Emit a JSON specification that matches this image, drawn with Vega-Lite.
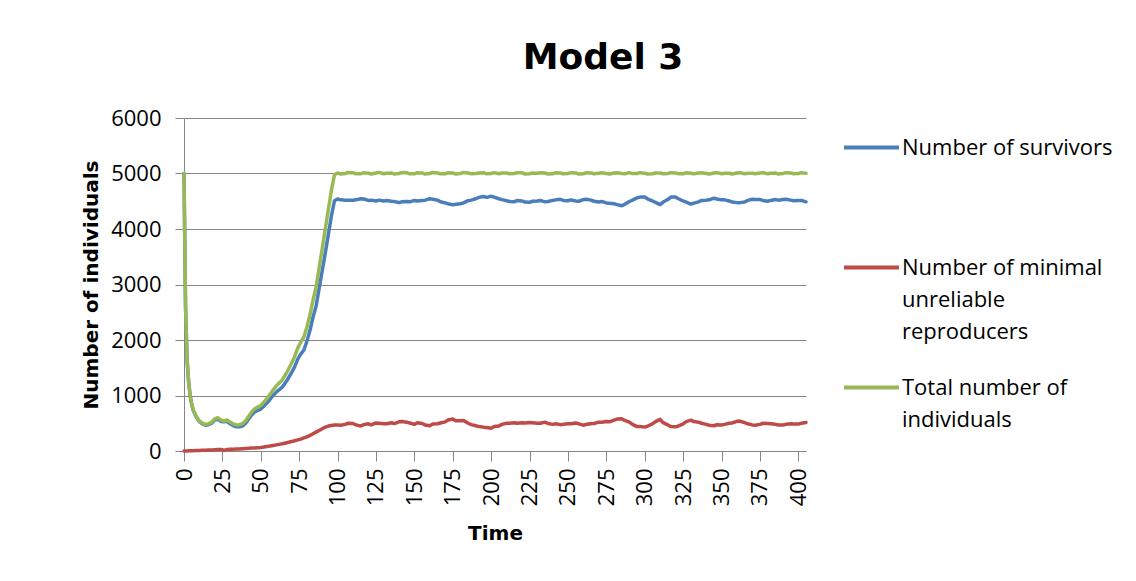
{
  "$schema": "https://vega.github.io/schema/vega-lite/v6.json",
  "width": 622,
  "height": 333,
  "padding": {"left": 81, "top": 40, "right": 0, "bottom": 0},
  "background": "white",
  "title": {"text": "Model 3", "font": "DejaVu Sans", "fontWeight": "bold", "fontSize": 36, "color": "#000000", "anchor": "middle", "dx": 108, "offset": 30},
  "data": {"values": [
    {"t":0,"g":5000,"m":0,"s":5000},
    {"t":1,"g":2600,"m":0,"s":2600},
    {"t":2,"g":1650,"m":2,"s":1648},
    {"t":3,"g":1250,"m":3,"s":1247},
    {"t":4,"g":1000,"m":4,"s":996},
    {"t":5,"g":850,"m":5,"s":845},
    {"t":6,"g":740,"m":6,"s":734},
    {"t":8,"g":620,"m":8,"s":612},
    {"t":10,"g":540,"m":10,"s":530},
    {"t":12,"g":500,"m":12,"s":488},
    {"t":14,"g":480,"m":15,"s":465},
    {"t":16,"g":490,"m":18,"s":472},
    {"t":18,"g":520,"m":20,"s":500},
    {"t":20,"g":580,"m":22,"s":558},
    {"t":22,"g":600,"m":25,"s":575},
    {"t":24,"g":560,"m":28,"s":532},
    {"t":26,"g":540,"m":15,"s":525},
    {"t":28,"g":560,"m":25,"s":535},
    {"t":30,"g":520,"m":30,"s":490},
    {"t":32,"g":490,"m":32,"s":458},
    {"t":34,"g":470,"m":35,"s":435},
    {"t":36,"g":475,"m":38,"s":437},
    {"t":38,"g":490,"m":42,"s":448},
    {"t":40,"g":540,"m":45,"s":495},
    {"t":42,"g":620,"m":48,"s":572},
    {"t":44,"g":700,"m":52,"s":648},
    {"t":46,"g":760,"m":56,"s":704},
    {"t":48,"g":790,"m":60,"s":730},
    {"t":50,"g":820,"m":65,"s":755},
    {"t":52,"g":880,"m":72,"s":808},
    {"t":55,"g":980,"m":85,"s":895},
    {"t":58,"g":1100,"m":100,"s":1000},
    {"t":61,"g":1200,"m":115,"s":1085},
    {"t":64,"g":1280,"m":130,"s":1150},
    {"t":67,"g":1420,"m":150,"s":1270},
    {"t":70,"g":1580,"m":170,"s":1410},
    {"t":72,"g":1700,"m":185,"s":1515},
    {"t":74,"g":1850,"m":200,"s":1650},
    {"t":76,"g":1960,"m":215,"s":1745},
    {"t":78,"g":2050,"m":235,"s":1815},
    {"t":80,"g":2230,"m":255,"s":1975},
    {"t":82,"g":2450,"m":280,"s":2170},
    {"t":84,"g":2720,"m":310,"s":2410},
    {"t":86,"g":2950,"m":340,"s":2610},
    {"t":88,"g":3300,"m":370,"s":2930},
    {"t":90,"g":3650,"m":400,"s":3250},
    {"t":92,"g":4000,"m":430,"s":3570},
    {"t":94,"g":4350,"m":450,"s":3900},
    {"t":96,"g":4700,"m":460,"s":4240},
    {"t":98,"g":4980,"m":470,"s":4510},
    {"t":100,"g":5010,"m":470,"s":4540},
    {"t":102,"g":4990,"m":465,"s":4525},
    {"t":105,"g":5000,"m":480,"s":4520},
    {"t":107,"g":5020,"m":500,"s":4520},
    {"t":110,"g":5015,"m":495,"s":4520},
    {"t":112,"g":4995,"m":470,"s":4525},
    {"t":115,"g":4995,"m":450,"s":4545},
    {"t":117,"g":5015,"m":475,"s":4540},
    {"t":120,"g":5005,"m":490,"s":4515},
    {"t":122,"g":4990,"m":470,"s":4520},
    {"t":125,"g":5010,"m":505,"s":4505},
    {"t":127,"g":5020,"m":500,"s":4520},
    {"t":130,"g":4995,"m":490,"s":4505},
    {"t":132,"g":5005,"m":490,"s":4515},
    {"t":135,"g":5010,"m":510,"s":4500},
    {"t":137,"g":4990,"m":495,"s":4495},
    {"t":140,"g":5000,"m":525,"s":4475},
    {"t":142,"g":5020,"m":530,"s":4490},
    {"t":145,"g":5015,"m":520,"s":4495},
    {"t":147,"g":4995,"m":505,"s":4490},
    {"t":150,"g":4995,"m":480,"s":4515},
    {"t":152,"g":5015,"m":510,"s":4505},
    {"t":155,"g":5010,"m":495,"s":4515},
    {"t":157,"g":4990,"m":470,"s":4520},
    {"t":160,"g":5000,"m":455,"s":4545},
    {"t":162,"g":5020,"m":485,"s":4535},
    {"t":165,"g":5010,"m":490,"s":4520},
    {"t":167,"g":4995,"m":505,"s":4490},
    {"t":170,"g":4995,"m":525,"s":4470},
    {"t":172,"g":5015,"m":560,"s":4455},
    {"t":175,"g":5010,"m":575,"s":4435},
    {"t":177,"g":4990,"m":545,"s":4445},
    {"t":180,"g":5000,"m":545,"s":4455},
    {"t":182,"g":5020,"m":550,"s":4470},
    {"t":185,"g":5010,"m":500,"s":4510},
    {"t":187,"g":4995,"m":475,"s":4520},
    {"t":190,"g":5000,"m":455,"s":4545},
    {"t":192,"g":5010,"m":440,"s":4570},
    {"t":195,"g":5015,"m":430,"s":4585},
    {"t":197,"g":4995,"m":425,"s":4570},
    {"t":200,"g":5000,"m":410,"s":4590},
    {"t":202,"g":5015,"m":440,"s":4575},
    {"t":205,"g":4995,"m":450,"s":4545},
    {"t":207,"g":5010,"m":480,"s":4530},
    {"t":210,"g":5010,"m":500,"s":4510},
    {"t":212,"g":4995,"m":500,"s":4495},
    {"t":215,"g":5000,"m":510,"s":4490},
    {"t":217,"g":5015,"m":500,"s":4515},
    {"t":220,"g":5015,"m":510,"s":4505},
    {"t":222,"g":4990,"m":505,"s":4485},
    {"t":225,"g":4995,"m":515,"s":4480},
    {"t":227,"g":5010,"m":510,"s":4500},
    {"t":230,"g":5005,"m":500,"s":4505},
    {"t":232,"g":5015,"m":500,"s":4515},
    {"t":235,"g":5010,"m":520,"s":4490},
    {"t":237,"g":4990,"m":495,"s":4495},
    {"t":240,"g":4995,"m":480,"s":4515},
    {"t":242,"g":5015,"m":490,"s":4525},
    {"t":245,"g":5010,"m":475,"s":4535},
    {"t":247,"g":4995,"m":480,"s":4515},
    {"t":250,"g":5000,"m":490,"s":4510},
    {"t":252,"g":5015,"m":490,"s":4525},
    {"t":255,"g":5010,"m":505,"s":4505},
    {"t":257,"g":4990,"m":490,"s":4500},
    {"t":260,"g":4995,"m":465,"s":4530},
    {"t":262,"g":5015,"m":480,"s":4535},
    {"t":265,"g":5010,"m":490,"s":4520},
    {"t":267,"g":4995,"m":495,"s":4500},
    {"t":270,"g":5005,"m":520,"s":4485},
    {"t":272,"g":5015,"m":520,"s":4495},
    {"t":275,"g":5000,"m":530,"s":4470},
    {"t":277,"g":4990,"m":525,"s":4465},
    {"t":280,"g":5010,"m":555,"s":4455},
    {"t":282,"g":5015,"m":575,"s":4440},
    {"t":285,"g":5000,"m":580,"s":4420},
    {"t":287,"g":4995,"m":550,"s":4445},
    {"t":290,"g":5015,"m":520,"s":4495},
    {"t":292,"g":5000,"m":480,"s":4520},
    {"t":295,"g":5000,"m":440,"s":4560},
    {"t":297,"g":5015,"m":440,"s":4575},
    {"t":300,"g":5005,"m":430,"s":4575},
    {"t":302,"g":4990,"m":450,"s":4540},
    {"t":305,"g":4995,"m":490,"s":4505},
    {"t":307,"g":5010,"m":530,"s":4480},
    {"t":310,"g":5010,"m":570,"s":4440},
    {"t":312,"g":4995,"m":510,"s":4485},
    {"t":315,"g":5000,"m":470,"s":4530},
    {"t":317,"g":5015,"m":440,"s":4575},
    {"t":320,"g":5010,"m":435,"s":4575},
    {"t":322,"g":4995,"m":450,"s":4545},
    {"t":325,"g":4995,"m":490,"s":4505},
    {"t":327,"g":5015,"m":530,"s":4485},
    {"t":330,"g":5005,"m":555,"s":4450},
    {"t":332,"g":4995,"m":530,"s":4465},
    {"t":335,"g":5010,"m":520,"s":4490},
    {"t":337,"g":5015,"m":500,"s":4515},
    {"t":340,"g":5000,"m":480,"s":4520},
    {"t":342,"g":4990,"m":465,"s":4525},
    {"t":345,"g":5010,"m":455,"s":4555},
    {"t":347,"g":5015,"m":475,"s":4540},
    {"t":350,"g":4995,"m":470,"s":4525},
    {"t":352,"g":5005,"m":480,"s":4525},
    {"t":355,"g":5005,"m":500,"s":4505},
    {"t":357,"g":4990,"m":505,"s":4485},
    {"t":360,"g":5010,"m":535,"s":4475},
    {"t":362,"g":5015,"m":540,"s":4475},
    {"t":365,"g":4995,"m":510,"s":4485},
    {"t":367,"g":5005,"m":490,"s":4515},
    {"t":370,"g":5005,"m":470,"s":4535},
    {"t":372,"g":4995,"m":465,"s":4530},
    {"t":375,"g":5010,"m":480,"s":4530},
    {"t":377,"g":5015,"m":500,"s":4515},
    {"t":380,"g":4995,"m":495,"s":4500},
    {"t":382,"g":5005,"m":490,"s":4515},
    {"t":385,"g":5010,"m":480,"s":4530},
    {"t":387,"g":4990,"m":470,"s":4520},
    {"t":390,"g":5000,"m":470,"s":4530},
    {"t":392,"g":5015,"m":480,"s":4535},
    {"t":395,"g":5010,"m":490,"s":4520},
    {"t":397,"g":4995,"m":485,"s":4510},
    {"t":400,"g":5000,"m":485,"s":4515},
    {"t":402,"g":5015,"m":500,"s":4515},
    {"t":405,"g":5005,"m":515,"s":4490}
  ]},
  "transform": [{"fold": ["s", "m", "g"], "as": ["series", "value"]}],
  "mark": {"type": "line", "strokeWidth": 3.5, "strokeJoin": "round", "strokeCap": "round"},
  "encoding": {
    "x": {
      "field": "t", "type": "quantitative",
      "scale": {"domain": [0, 405], "nice": false, "zero": false},
      "axis": {
        "title": "Time", "values": [0,25,50,75,100,125,150,175,200,225,250,275,300,325,350,375,400],
        "labelAngle": -90, "labelFont": "Open Sans", "labelFontSize": 22, "labelColor": "#000000",
        "labelPadding": 7, "tickSize": 10, "tickColor": "#868686", "domainColor": "#868686",
        "grid": false, "titleFont": "DejaVu Sans", "titleFontWeight": "bold", "titleFontSize": 20,
        "titleColor": "#000000", "titlePadding": 18, "labelFlush": false, "labelOverlap": false
      }
    },
    "y": {
      "field": "value", "type": "quantitative",
      "scale": {"domain": [0, 6000], "nice": false},
      "axis": {
        "title": "Number of individuals", "values": [0,1000,2000,3000,4000,5000,6000], "format": "d",
        "labelFont": "Open Sans", "labelFontSize": 22, "labelColor": "#000000",
        "labelPadding": 14, "tickSize": 9, "tickColor": "#868686", "domainColor": "#868686",
        "gridColor": "#868686", "gridWidth": 1,
        "titleFont": "DejaVu Sans", "titleFontWeight": "bold", "titleFontSize": 20,
        "titleColor": "#000000", "titlePadding": 9
      }
    },
    "color": {
      "field": "series", "type": "nominal",
      "scale": {"domain": ["s", "m", "g"], "range": ["#4A7EBB", "#BE4B48", "#98B954"]},
      "legend": {
        "title": null, "orient": "right", "offset": 34,
        "symbolType": "stroke", "symbolSize": 3025, "symbolStrokeWidth": 4,
        "labelFont": "Open Sans", "labelFontSize": 22, "labelColor": "#000000",
        "labelOffset": 1, "labelLimit": 400, "gridAlign": "all", "rowPadding": 15,
        "labelExpr": "datum.value == 's' ? 'Number of survivors' : datum.value == 'm' ? ['Number of minimal', 'unreliable', 'reproducers'] : ['Total number of', 'individuals']"
      }
    }
  },
  "config": {
    "view": {"stroke": null},
    "style": {"guide-label": {"lineHeight": 32}}
  }
}
